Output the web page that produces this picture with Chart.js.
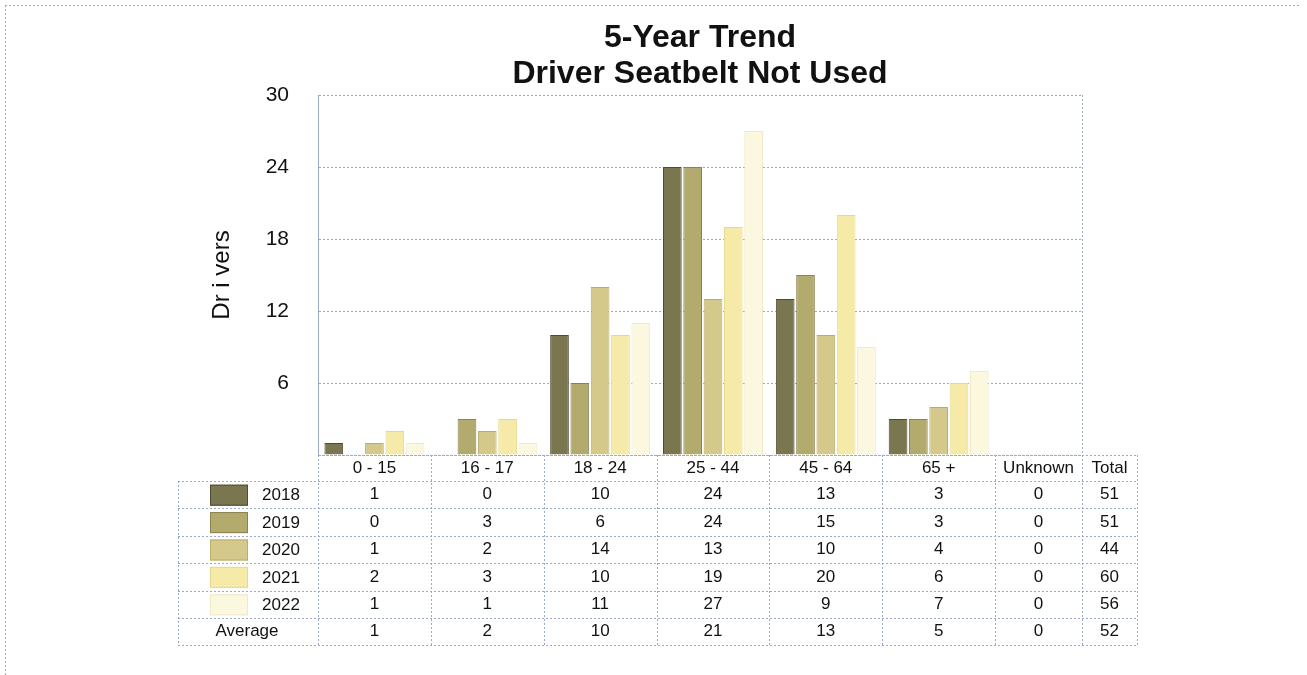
<!DOCTYPE html>
<html>
<head>
<meta charset="utf-8">
<script src="https://cdn.jsdelivr.net/npm/chart.js@4/dist/chart.umd.min.js"></script>
<style>
  html, body { margin: 0; padding: 0; background: #fff; }
  #wrap { width: 1307px; height: 675px; position: relative; }
</style>
</head>
<body>
<div id="wrap"><canvas id="trendChart" width="1307" height="675"></canvas></div>
<script>
var ageGroups = ["0 - 15", "16 - 17", "18 - 24", "25 - 44", "45 - 64", "65 +", "Unknown"];
var years = ["2018", "2019", "2020", "2021", "2022"];
var y2018 = [1, 0, 10, 24, 13, 3, 0];
var y2019 = [0, 3, 6, 24, 15, 3, 0];
var y2020 = [1, 2, 14, 13, 10, 4, 0];
var y2021 = [2, 3, 10, 19, 20, 6, 0];
var y2022 = [1, 1, 11, 27, 9, 7, 0];
var averages = [1, 2, 10, 21, 13, 5, 0];
var totals = [51, 51, 44, 60, 56];
var avgTotal = 52;
var yTicks = [6, 12, 18, 24, 30];

var barColors = ['#7a7650', '#b3aa6e', '#d4c98a', '#f6eaa8', '#fcf7df'];
var edgeColors = ['#4f4c30', '#8a8350', '#b8ad6c', '#e6d98e', '#f1e8c6'];
var gridBlue = '#9aaac6';

// the Unknown column is cut short by the plot's right edge, so x runs -0.5 .. 6.27
var xMin = -0.5;
var xMax = 6.27;

var seriesList = [y2018, y2019, y2020, y2021, y2022];
var datasets = seriesList.map(function (vals, i) {
    return {
        label: years[i],
        data: vals.map(function (v, k) { return { x: k, y: v }; }),
        backgroundColor: barColors[i],
        borderColor: edgeColors[i],
        borderWidth: 1,
        categoryPercentage: 0.9,
        barPercentage: 0.92
    };
});

// data table under the plot, columns follow the x scale
var tablePlugin = {
    id: 'dataTable',
    afterDraw: function (chart) {
        var c = chart.ctx;
        var area = chart.chartArea;
        var xs = chart.scales.x;
        var labelLeft = 178;
        var totalRight = 1137;
        var headTop = area.bottom;
        var rowH = 27.4;
        var firstRow = headTop + 26;
        var nRows = years.length + 1;
        var tableBottom = firstRow + nRows * rowH;

        var edges = [];
        for (var i = 0; i < ageGroups.length; i++) {
            edges.push(xs.getPixelForValue(i - 0.5));
        }
        edges.push(area.right);

        c.save();
        c.strokeStyle = gridBlue;
        c.lineWidth = 1;
        c.setLineDash([2, 2]);

        function hline(x1, x2, y) { c.beginPath(); c.moveTo(x1, Math.round(y) + 0.5); c.lineTo(x2, Math.round(y) + 0.5); c.stroke(); }
        function vline(x, y1, y2) { c.beginPath(); c.moveTo(Math.round(x) + 0.5, y1); c.lineTo(Math.round(x) + 0.5, y2); c.stroke(); }

        // outer frame of the picture
        hline(5, 1300, 5);
        vline(5, 5, 675);

        // right border of plot area
        vline(area.right, area.top, area.bottom);

        hline(area.left, totalRight, headTop);
        for (var r = 0; r <= nRows; r++) {
            hline(labelLeft, totalRight, firstRow + r * rowH);
        }
        vline(labelLeft, firstRow, tableBottom);
        for (var e = 0; e < edges.length; e++) {
            vline(edges[e], headTop, tableBottom);
        }
        vline(totalRight, headTop, tableBottom);
        c.setLineDash([]);

        c.fillStyle = '#111';
        c.font = '17px "Liberation Sans", Arial, sans-serif';
        c.textAlign = 'center';
        c.textBaseline = 'middle';

        for (var h = 0; h < ageGroups.length; h++) {
            c.fillText(ageGroups[h], (edges[h] + edges[h + 1]) / 2, headTop + 13);
        }
        c.fillText('Total', (area.right + totalRight) / 2, headTop + 13);

        for (var y = 0; y < years.length; y++) {
            var cy = firstRow + y * rowH + rowH / 2;
            c.fillStyle = barColors[y];
            c.fillRect(210, cy - 10, 38, 21);
            c.strokeStyle = edgeColors[y];
            c.strokeRect(210.5, cy - 9.5, 37, 20);
            c.fillStyle = '#111';
            c.fillText(years[y], 281, cy + 1);
            for (var k = 0; k < ageGroups.length; k++) {
                c.fillText(String(seriesList[y][k]), (edges[k] + edges[k + 1]) / 2, cy);
            }
            c.fillText(String(totals[y]), (area.right + totalRight) / 2, cy);
        }

        var ay = firstRow + years.length * rowH + rowH / 2;
        c.fillText('Average', 247, ay);
        for (var m = 0; m < ageGroups.length; m++) {
            c.fillText(String(averages[m]), (edges[m] + edges[m + 1]) / 2, ay);
        }
        c.fillText(String(avgTotal), (area.right + totalRight) / 2, ay);
        c.restore();
    }
};

var ctx = document.getElementById('trendChart');
Chart.defaults.font.family = '"Liberation Sans", Arial, sans-serif';
Chart.defaults.color = '#111';

var myChart = new Chart(ctx, {
    type: 'bar',
    data: {
        datasets: datasets
    },
    options: {
        responsive: false,
        animation: false,
        layout: {
            padding: { left: 0, right: 225, top: 0, bottom: 220 }
        },
        plugins: {
            legend: { display: false },
            tooltip: { enabled: false },
            title: {
                display: true,
                fullSize: false,
                text: ['5-Year Trend', 'Driver Seatbelt Not Used'],
                font: { size: 32, weight: 'bold', lineHeight: 1.125 },
                color: '#111',
                padding: { top: 20, bottom: 3 }
            }
        },
        scales: {
            x: {
                type: 'linear',
                display: false,
                min: xMin,
                max: xMax,
                offset: false,
                afterBuildTicks: function (scale) {
                    scale.ticks = ageGroups.map(function (g, i) { return { value: i }; });
                }
            },
            y: {
                min: 0,
                max: 30,
                afterFit: function (scale) { scale.width = 318; },
                afterBuildTicks: function (scale) {
                    scale.ticks = [0].concat(yTicks).map(function (v) { return { value: v }; });
                },
                ticks: {
                    padding: 29,
                    font: { size: 21 },
                    color: '#111',
                    callback: function (v) { return v === 0 ? '' : v; }
                },
                grid: {
                    color: gridBlue,
                    drawTicks: false,
                    lineWidth: 1
                },
                border: {
                    display: true,
                    color: gridBlue,
                    dash: [2, 2]
                },
                title: {
                    display: true,
                    text: 'Dr i vers',
                    font: { size: 24 },
                    color: '#111',
                    padding: { top: 208, bottom: 0 }
                }
            }
        }
    },
    plugins: [tablePlugin]
});
</script>
</body>
</html>
